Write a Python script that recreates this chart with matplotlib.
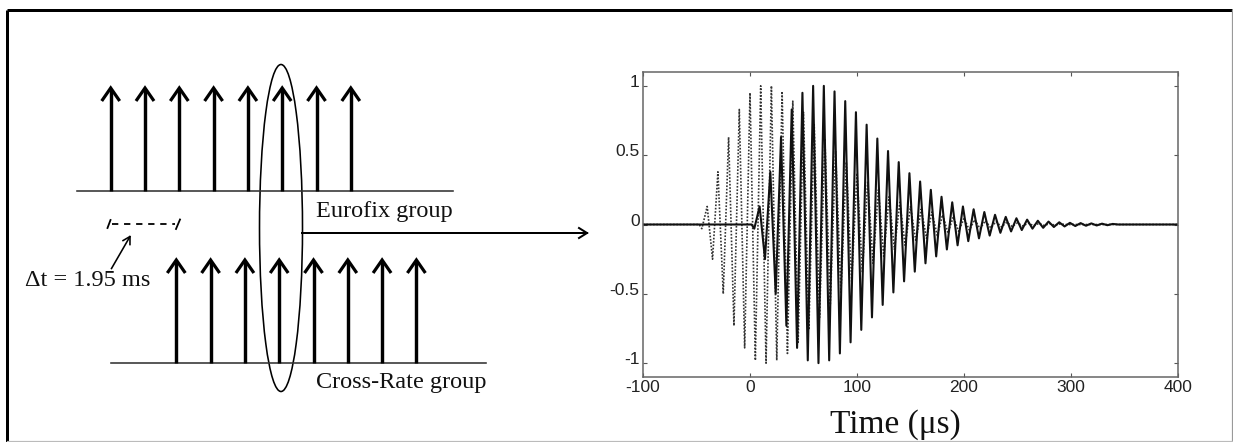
import numpy as np
import matplotlib
matplotlib.use("Agg")
import matplotlib.pyplot as plt
from matplotlib.patches import Ellipse
import matplotlib.transforms as mtransforms

# ---------------- data ----------------
n_eurofix_pulses = 8
n_crossrate_pulses = 8
eurofix_label = "Eurofix group"
crossrate_label = "Cross-Rate group"
delta_label = "\u0394t = 1.95 ms"
xlabel = "Time (\u03bcs)"

x_ticks = [-100, 0, 100, 200, 300, 400]
y_ticks = [-1, -0.5, 0, 0.5, 1]
y_tick_labels = ["-1", "-0.5", "0", "0.5", "1"]

# extrema of the pulse, every 5 us
solid_onset = 1.5
solid_extrema_t = [4, 9, 14, 19, 24, 29, 34, 39, 44, 49, 54, 59, 64, 69, 74, 79, 84, 89,
                   94, 99, 104, 109, 114, 119, 124, 129, 134, 139, 144, 149, 154, 159,
                   164, 169, 174, 179, 184, 189, 194, 199, 204, 209, 214, 219, 224, 229,
                   234, 239, 244, 249, 254, 259, 264, 269, 274, 279, 284, 289, 294, 299,
                   304, 309, 314, 319, 324, 329, 334, 339]
solid_end = 344
dotted_onset = -47.5
dotted_extrema_t = [-45, -40, -35, -30, -25, -20, -15, -10, -5, 0, 5, 10, 15, 20, 25, 30,
                    35, 40, 45, 50, 55, 60, 65, 70, 75, 80, 85, 90, 95, 100, 105, 110,
                    115, 120, 125, 130, 135, 140, 145, 150, 155, 160, 165, 170, 175, 180,
                    185, 190, 195, 200, 205, 210, 215, 220, 225, 230, 235, 240, 245, 250,
                    255, 260, 265, 270, 275, 280, 285, 290]
dotted_end = 295
pulse_extrema = [-0.03, 0.13, -0.25, 0.38, -0.50, 0.63, -0.73, 0.83, -0.89, 0.95, -0.98,
                 1.00, -1.00, 1.00, -0.98, 0.96, -0.93, 0.89, -0.85, 0.81, -0.76, 0.72,
                 -0.67, 0.62, -0.58, 0.53, -0.49, 0.45, -0.41, 0.37, -0.34, 0.31, -0.28,
                 0.25, -0.23, 0.20, -0.18, 0.16, -0.15, 0.13, -0.12, 0.11, -0.10, 0.09,
                 -0.08, 0.07, -0.06, 0.055, -0.05, 0.045, -0.04, 0.035, -0.03, 0.027,
                 -0.024, 0.021, -0.018, 0.016, -0.014, 0.012, -0.011, 0.010, -0.009,
                 0.008, -0.007, 0.006, -0.005, 0.004]

# ---------------- figure ----------------
W, H = 1233, 442
fig = plt.figure(figsize=(W / 100, H / 100), dpi=100)
fig.patch.set_facecolor("white")

px = 0.72  # points per pixel
serif = ["Liberation Serif", "DejaVu Serif"]
sans = ["Liberation Sans", "DejaVu Sans"]

# overlay in pixel coordinates for the diagram
ov = fig.add_axes([0, 0, 1, 1])
ov.set_xlim(0, W)
ov.set_ylim(H, 0)
ov.axis("off")

# outer border
ov.plot([7, 7], [10, H], color="black", lw=3 * px, solid_capstyle="butt")
ov.plot([7, 1232], [10, 10], color="black", lw=3 * px, solid_capstyle="butt")
ov.plot([1232, 1232], [10, H], color="#999999", lw=1.2 * px)
ov.plot([7, 1232], [H - 1, H - 1], color="#bbbbbb", lw=1.2 * px)

def pulse_arrow(x, base, tip):
    ov.plot([x, x], [base, tip + 2], color="black", lw=3.4 * px, solid_capstyle="butt")
    ov.plot([x - 9, x, x + 9], [tip + 13, tip, tip + 13], color="black",
            lw=3.2 * px, solid_joinstyle="miter", solid_capstyle="butt")

def open_arrow(x0, y0, x1, y1, head_len, head_half, lw):
    ov.plot([x0, x1], [y0, y1], color="black", lw=lw)
    d = np.array([x1 - x0, y1 - y0], dtype=float)
    d /= np.hypot(*d)
    p = np.array([-d[1], d[0]])
    b = np.array([x1, y1]) - head_len * d
    w1 = b + head_half * p
    w2 = b - head_half * p
    ov.plot([w1[0], x1, w2[0]], [w1[1], y1, w2[1]], color="black", lw=lw,
            solid_joinstyle="miter")

spacing = 34.3
# upper (Eurofix) group
ov.plot([77, 453], [191, 191], color="#333333", lw=1.6 * px)
for i in range(n_eurofix_pulses):
    pulse_arrow(110.7 + i * spacing, 191, 88)
# lower (Cross-Rate) group
ov.plot([111, 486], [363, 363], color="#333333", lw=1.6 * px)
for i in range(n_crossrate_pulses):
    pulse_arrow(176.3 + i * spacing, 363, 260)

# ellipse
ov.add_patch(Ellipse((281, 228), 43, 327, fill=False, edgecolor="black", lw=1.6 * px))

# horizontal arrow
open_arrow(302, 233, 587, 233, 8, 5, 2.0 * px)

# labels
ov.text(316, 216.5, eurofix_label, fontsize=17.5, family=serif, ha="left",
        va="baseline", color="#111111")
ov.text(316, 388.3, crossrate_label, fontsize=17.5, family=serif, ha="left",
        va="baseline", color="#111111")
ov.text(150, 285.7, delta_label, fontsize=17.5, family=serif, ha="right",
        va="baseline", color="#111111")

# dashed delta-t marker
ov.plot([112, 175], [224, 224], color="black", lw=1.8 * px, dashes=(3.5, 3.2))
ov.plot([107.5, 110.5], [228, 220], color="black", lw=1.8 * px)
ov.plot([176, 180], [229, 219.5], color="black", lw=1.8 * px)

# small pointer arrow
open_arrow(111.5, 268.5, 130, 236.5, 7, 4, 1.6 * px)

# ---------------- waveform chart ----------------
ax = fig.add_axes([643 / W, (H - 377) / H, 535 / W, 305 / H])
ax.set_xlim(-100, 400)
ax.set_ylim(-1.1, 1.1)

n = len(pulse_extrema)
st = [-100, solid_onset] + list(solid_extrema_t[:n]) + [solid_end, 400]
sv = [0, 0] + list(pulse_extrema) + [0, 0]
dt = [-100, dotted_onset] + list(dotted_extrema_t[:n]) + [dotted_end, 400]
dv = [0, 0] + list(pulse_extrema) + [0, 0]

ax.plot(dt, dv, color="#333333", lw=1.2, dashes=(1.0, 1.0))
ax.plot(st, sv, color="#111111", lw=1.5)

for s in ax.spines.values():
    s.set_color("#666666")
    s.set_linewidth(1.1)

ax.set_xticks(x_ticks)
ax.set_xticklabels([str(t) for t in x_ticks])
ax.set_yticks(y_ticks)
ax.set_yticklabels(y_tick_labels)
ax.tick_params(direction="in", length=3, width=0.8, color="#555555",
               top=True, right=True, labelsize=12.5, labelcolor="#222222", pad=2.5)
for lab in ax.get_xticklabels() + ax.get_yticklabels():
    lab.set_family(sans)
# y labels sit slightly above their ticks
off = mtransforms.ScaledTranslation(0, 5 / 100, fig.dpi_scale_trans)
for lab in ax.get_yticklabels():
    lab.set_transform(lab.get_transform() + off)

fig.text(895 / W, 1 - 433 / H, xlabel, fontsize=24, family=serif, ha="center",
         va="baseline", color="#111111")

fig.savefig("out.png", dpi=100, facecolor="white")
